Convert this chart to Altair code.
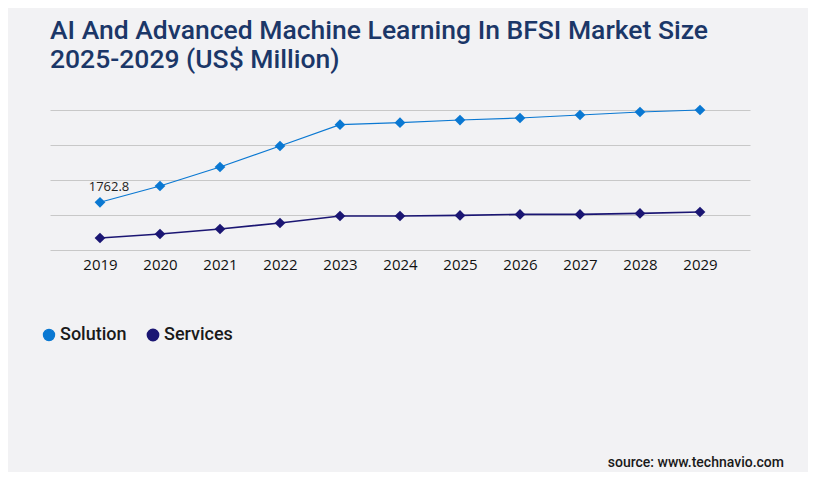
import altair as alt
import pandas as pd

years = ["2019", "2020", "2021", "2022", "2023", "2024", "2025", "2026", "2027", "2028", "2029"]
solution = [1762.8, 2364, 3066, 3842, 4629, 4703, 4802, 4876, 4987, 5098, 5172]
services = [443, 591, 776, 997, 1256, 1256, 1278, 1315, 1315, 1352, 1404]
series_names = ["Solution", "Services"]
series_colors = ["#0a78d2", "#1b1673"]
grid_values = [0, 1293, 2586, 3879, 5172]
title_lines = ["AI And Advanced Machine Learning In BFSI Market Size", "2025-2029 (US$ Million)"]
source_text = ["source: www.technavio.com"]
label_years = ["2019"]
label_values = [1762.8]

df = pd.DataFrame({
    "Year": years * 2,
    "Value": solution + services,
    "Segment": ["Solution"] * len(years) + ["Services"] * len(years),
})
lab_df = pd.DataFrame({"Year": label_years, "Value": label_values,
                       "Text": [f"{v:.1f}" for v in label_values]})
src_df = pd.DataFrame({"t": source_text})

x_enc = alt.X("Year:O", sort=years,
              scale=alt.Scale(type="point", padding=0.8333),
              axis=alt.Axis(title=None, labelAngle=0, domain=False, ticks=False,
                            labelPadding=7, labelFont="Open Sans", labelFontSize=15,
                            labelColor="#111111", grid=False))
y_enc = alt.Y("Value:Q",
              scale=alt.Scale(domain=[0, 5172], nice=False, zero=True),
              axis=alt.Axis(title=None, labels=False, ticks=False, domain=False,
                            grid=True, values=grid_values, gridColor="#c8c8c8",
                            gridWidth=1))
color_scale = alt.Scale(domain=series_names, range=series_colors)
legend = alt.Legend(title=None, orient="none", direction="horizontal",
                    legendX=-10, legendY=216, symbolType="circle",
                    symbolSize=125, symbolOpacity=1, symbolStrokeWidth=0,
                    labelFont="Roboto", labelFontSize=18,
                    labelFontWeight=500, labelColor="#1a1a1a",
                    labelOffset=2, columnPadding=17, padding=0)
color_enc = alt.Color("Segment:N", scale=color_scale, sort=series_names, legend=legend)

lines = alt.Chart(df).mark_line().encode(
    x=x_enc, y=y_enc,
    color=color_enc,
    strokeWidth=alt.StrokeWidth("Segment:N", scale=alt.Scale(domain=series_names, range=[1.2, 1.6]),
                                legend=None),
)
points = alt.Chart(df).mark_point(shape="diamond", filled=True, size=115, opacity=1).encode(
    x=x_enc, y=y_enc,
    color=color_enc,
)
label = alt.Chart(lab_df).mark_text(dx=9, dy=-15, fontSize=13, font="Open Sans",
                                     color="#222222").encode(
    x=x_enc, y=y_enc, text="Text:N")
source = alt.Chart(src_df).mark_text(align="right", baseline="alphabetic", fontSize=14,
                                     font="Roboto", fontWeight=500, color="#1a1a1a").encode(
    x=alt.value(734), y=alt.value(357), text="t:N")

chart = alt.layer(lines, points, label, source).properties(
    width=700, height=140,
    title=alt.TitleParams(title_lines, anchor="start", frame="group", font="Roboto",
                          fontSize=26.5, fontWeight=500, color="#1b3768",
                          lineHeight=29, offset=31),
    autosize=alt.AutoSizeParams(type="none"),
    padding={"left": 42, "top": 102, "right": 58, "bottom": 222},
).configure(background="#f2f2f4").configure_view(stroke=None)

chart.save("out.html", embed_options={"renderer": "svg", "actions": False})
